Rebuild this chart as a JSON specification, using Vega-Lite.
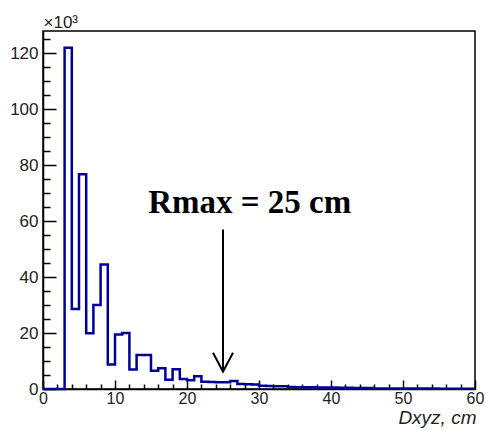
{
  "$schema": "https://vega.github.io/schema/vega-lite/v6.json",
  "width": 432,
  "height": 358,
  "autosize": "none",
  "padding": {"left": 43, "top": 31, "right": 11, "bottom": 42},
  "background": "white",
  "config": {
    "view": {"stroke": "black", "strokeWidth": 1.5},
    "axis": {"grid": false, "domainColor": "black", "domainWidth": 1.5, "tickColor": "black", "tickWidth": 1.5, "labelColor": "#222222", "labelFont": "Liberation Sans", "titleFont": "Liberation Sans", "labelOverlap": false, "labelFlush": false}
  },
  "datasets": {
    "hist": [
      {"x": 0, "count": 0}, {"x": 1, "count": 0}, {"x": 2, "count": 0},
      {"x": 3, "count": 122}, {"x": 4, "count": 28.6}, {"x": 5, "count": 76.8},
      {"x": 6, "count": 19.9}, {"x": 7, "count": 30}, {"x": 8, "count": 44.5},
      {"x": 9, "count": 8.8}, {"x": 10, "count": 19.5}, {"x": 11, "count": 20},
      {"x": 12, "count": 7}, {"x": 13, "count": 12.2}, {"x": 14, "count": 12.2},
      {"x": 15, "count": 6.5}, {"x": 16, "count": 7.4}, {"x": 17, "count": 3.3},
      {"x": 18, "count": 7.1}, {"x": 19, "count": 3.6}, {"x": 20, "count": 3.1},
      {"x": 21, "count": 4.6}, {"x": 22, "count": 2.6}, {"x": 23, "count": 2.5},
      {"x": 24, "count": 2.4}, {"x": 25, "count": 2.4}, {"x": 26, "count": 2.9},
      {"x": 27, "count": 1.8}, {"x": 28, "count": 1.7}, {"x": 29, "count": 1.6},
      {"x": 30, "count": 1.2}, {"x": 31, "count": 1.1}, {"x": 32, "count": 1.0},
      {"x": 33, "count": 0.95}, {"x": 34, "count": 0.7}, {"x": 35, "count": 0.65},
      {"x": 36, "count": 0.6}, {"x": 37, "count": 0.6}, {"x": 38, "count": 0.55},
      {"x": 39, "count": 0.5}, {"x": 40, "count": 0.5}, {"x": 41, "count": 0.45},
      {"x": 42, "count": 0.45}, {"x": 43, "count": 0.4}, {"x": 44, "count": 0.4},
      {"x": 45, "count": 0.4}, {"x": 46, "count": 0.2}, {"x": 47, "count": 0.2},
      {"x": 48, "count": 0.2}, {"x": 49, "count": 0.18}, {"x": 50, "count": 0.18},
      {"x": 51, "count": 0.16}, {"x": 52, "count": 0.15}, {"x": 53, "count": 0.15},
      {"x": 54, "count": 0.14}, {"x": 55, "count": 0.13}, {"x": 56, "count": 0.12},
      {"x": 57, "count": 0.12}, {"x": 58, "count": 0.11}, {"x": 59, "count": 0.1},
      {"x": 60, "count": 0.1}
    ],
    "arrow": [{"x": 25, "y": 57, "y2": 6.2}],
    "tip": [{"x": 25, "y": 6.2}],
    "label": [{"x": 28.7, "y": 63, "label": "Rmax = 25 cm"}]
  },
  "layer": [
    {
      "data": {"name": "hist"},
      "mark": {"type": "line", "interpolate": "step-after", "color": "#000099", "strokeWidth": 2.5},
      "encoding": {
        "x": {
          "field": "x", "type": "quantitative",
          "scale": {"domain": [0, 60], "nice": false},
          "axis": {
            "values": [0,2,4,6,8,10,12,14,16,18,20,22,24,26,28,30,32,34,36,38,40,42,44,46,48,50,52,54,56,58,60],
            "tickCount": 100,
            "format": "d",
            "labelExpr": "datum.value % 10 === 0 ? datum.label : ''",
            "labelOverlap": false,
            "labelFlush": false,
            "labelBound": false,
            "tickSize": {"condition": {"test": "datum.value % 10 === 0", "value": -9}, "value": -5},
            "labelPadding": 10,
            "labelFontSize": 16,
            "title": "Dxyz, cm",
            "titleFontStyle": "italic",
            "titleFontWeight": "normal",
            "titleFontSize": 19,
            "titleColor": "#222222",
            "titleAnchor": "end",
            "titleAlign": "right",
            "titleBaseline": "alphabetic",
            "titleX": 433,
            "titleY": 34
          }
        },
        "y": {
          "field": "count", "type": "quantitative",
          "scale": {"domain": [0, 128], "nice": false},
          "axis": {
            "values": [0,5,10,15,20,25,30,35,40,45,50,55,60,65,70,75,80,85,90,95,100,105,110,115,120,125],
            "tickCount": 100,
            "format": "d",
            "labelExpr": "datum.value % 20 === 0 ? datum.label : ''",
            "labelOverlap": false,
            "labelBound": false,
            "tickSize": {"condition": {"test": "datum.value % 20 === 0", "value": -13}, "value": -7},
            "labelPadding": 18,
            "labelFontSize": 17,
            "title": "×10³",
            "titleAngle": 0,
            "titleFontSize": 17,
            "titleFontWeight": "normal",
            "titleColor": "#222222",
            "titleAlign": "left",
            "titleBaseline": "alphabetic",
            "titleX": 0,
            "titleY": -4
          }
        }
      }
    },
    {
      "data": {"name": "arrow"},
      "mark": {"type": "rule", "strokeWidth": 2, "color": "black"},
      "encoding": {
        "x": {"field": "x", "type": "quantitative"},
        "y": {"field": "y", "type": "quantitative"},
        "y2": {"field": "y2"}
      }
    },
    {
      "data": {"name": "tip"},
      "mark": {"type": "point", "shape": "M-1,-1.9L0,0L1,-1.9", "size": 400, "filled": false, "strokeWidth": 2, "color": "black", "opacity": 1},
      "encoding": {
        "x": {"field": "x", "type": "quantitative"},
        "y": {"field": "y", "type": "quantitative"}
      }
    },
    {
      "data": {"name": "label"},
      "mark": {"type": "text", "font": "Liberation Serif", "fontWeight": "bold", "fontSize": 33, "align": "center", "baseline": "alphabetic", "color": "black"},
      "encoding": {
        "x": {"field": "x", "type": "quantitative"},
        "y": {"field": "y", "type": "quantitative"},
        "text": {"field": "label"}
      }
    }
  ]
}
